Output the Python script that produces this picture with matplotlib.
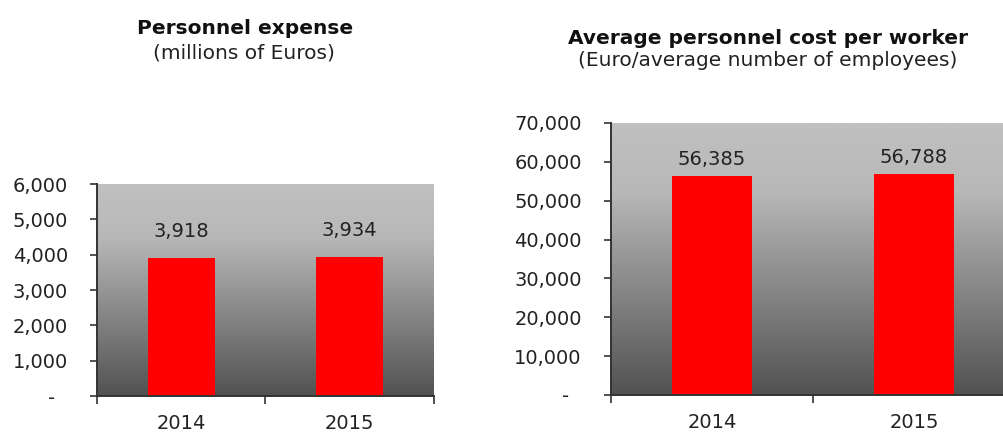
import numpy as np
import matplotlib
matplotlib.use("Agg")
import matplotlib.pyplot as plt
from matplotlib.ticker import FuncFormatter
from matplotlib.colors import LinearSegmentedColormap

# data
years = ["2014", "2015"]
expense = [3918, 3934]            # millions of Euros
avg_cost = [56385, 56788]         # Euro / average number of employees

plt.rcParams["font.family"] = "DejaVu Sans"

fig = plt.figure(figsize=(10.04, 4.34), dpi=100)
W, H = 1004, 434

# gray gradient for the plot area (dark at bottom, light at top)
grad = LinearSegmentedColormap.from_list(
    "bg", [(0.0, "#525252"), (0.75, "#b8b8b8"), (1.0, "#c0c0c0")])


def px_axes(x0, y0, x1, y1):
    return fig.add_axes([x0 / W, 1 - y1 / H, (x1 - x0) / W, (y1 - y0) / H])


def yfmt(v, pos):
    if v == 0:
        return "-\u2007"
    return f"{v:,.0f}"


def draw(ax, values, ymax, step, lab_off):
    x = np.arange(len(values))
    ax.set_xlim(-0.5, len(values) - 0.5)
    ax.set_ylim(0, ymax)
    ax.imshow(np.linspace(1, 0, 256).reshape(-1, 1), cmap=grad, aspect="auto",
              extent=[-0.5, len(values) - 0.5, 0, ymax], zorder=0)
    ax.bar(x, values, width=0.4, color="#ff0000", zorder=2)
    for xi, v in zip(x, values):
        ax.annotate(f"{v:,}", (xi, v), xytext=(0, lab_off), textcoords="offset points",
                    ha="center", va="bottom", fontsize=14, color="#222222")
    ax.set_yticks(np.arange(0, ymax + 1, step))
    ax.yaxis.set_major_formatter(FuncFormatter(yfmt))
    ax.set_xticks(x)
    ax.set_xticklabels(years)
    ax.set_xticks(np.arange(-0.5, len(values)), minor=True)
    ax.tick_params(axis="x", which="major", length=0, pad=13, labelsize=14, labelcolor="#222222")
    ax.tick_params(axis="x", which="minor", length=6, width=1.2, color="#333333")
    ax.tick_params(axis="y", length=5, width=1.2, color="#333333", pad=16,
                   labelsize=14, labelcolor="#222222")
    for s in ["top", "right"]:
        ax.spines[s].set_visible(False)
    for s in ["left", "bottom"]:
        ax.spines[s].set_color("#333333")
        ax.spines[s].set_linewidth(1.4)
        ax.spines[s].set_zorder(3)


ax1 = px_axes(97, 184, 434, 396)
draw(ax1, expense, 6000, 1000, 12)

ax2 = px_axes(611, 123, 1015, 395)
draw(ax2, avg_cost, 70000, 10000, 5)

fig.text(245 / W, 1 - 28 / H, "Personnel expense", ha="center", va="center",
         fontsize=14.5, fontweight="bold", color="#111111")
fig.text(244 / W, 1 - 53 / H, "(millions of Euros)", ha="center", va="center",
         fontsize=14.5, color="#222222")
fig.text(768 / W, 1 - 39 / H, "Average personnel cost per worker", ha="center", va="center",
         fontsize=14.5, fontweight="bold", color="#111111")
fig.text(768 / W, 1 - 61 / H, "(Euro/average number of employees)", ha="center", va="center",
         fontsize=14.5, color="#222222")

fig.savefig("out.png", dpi=100)
